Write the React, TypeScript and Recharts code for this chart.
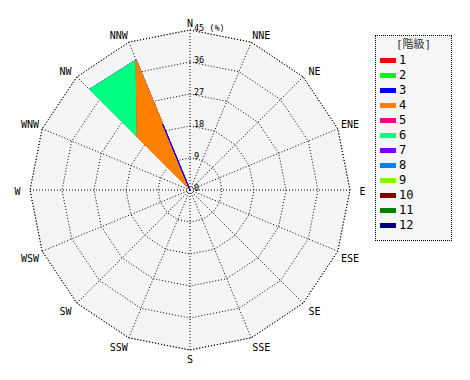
import React from 'react';
import { RadarChart, Radar, PolarGrid, PolarAngleAxis, PolarRadiusAxis, Legend } from 'recharts';

const directions = ['N', 'NNE', 'NE', 'ENE', 'E', 'ESE', 'SE', 'SSE', 'S', 'SSW', 'SW', 'WSW', 'W', 'WNW', 'NW', 'NNW'];
const radiusTicks = [0, 9, 18, 27, 36, 45];
const classLabels = ['1', '2', '3', '4', '5', '6', '7', '8', '9', '10', '11', '12'];
const classColors = ['#ff0000', '#00ff00', '#0000ff', '#ff8000', '#ff0080', '#00ff80', '#8000ff', '#0080ff', '#80ff00', '#800000', '#008000', '#000080'];

// cumulative frequency (%) up to each class, by direction (N ... NNW)
const class1 = [0, 0, 0, 0, 0, 0, 0, 0, 0, 0, 0, 0, 0, 0, 0, 0];
const class2 = [0, 0, 0, 0, 0, 0, 0, 0, 0, 0, 0, 0, 0, 0, 0, 0];
const class3 = [0, 0, 0, 0, 0, 0, 0, 0, 0, 0, 0, 0, 0, 0, 0, 20];
const class4 = [0, 0, 0, 0, 0, 0, 0, 0, 0, 0, 0, 0, 0, 0, 21, 39.6];
const class5 = [0, 0, 0, 0, 0, 0, 0, 0, 0, 0, 0, 0, 0, 0, 21, 39.6];
const class6 = [0, 0, 0, 0, 0, 0, 0, 0, 0, 0, 0, 0, 0, 0, 40, 39.6];
const class7 = [0, 0, 0, 0, 0, 0, 0, 0, 0, 0, 0, 0, 0, 0, 40, 39.6];
const class8 = [0, 0, 0, 0, 0, 0, 0, 0, 0, 0, 0, 0, 0, 0, 40, 39.6];
const class9 = [0, 0, 0, 0, 0, 0, 0, 0, 0, 0, 0, 0, 0, 0, 40, 39.6];
const class10 = [0, 0, 0, 0, 0, 0, 0, 0, 0, 0, 0, 0, 0, 0, 40, 39.6];
const class11 = [0, 0, 0, 0, 0, 0, 0, 0, 0, 0, 0, 0, 0, 0, 40, 39.6];
const class12 = [0, 0, 0, 0, 0, 0, 0, 0, 0, 0, 0, 0, 0, 0, 40, 39.6];

const classSeries = [class1, class2, class3, class4, class5, class6, class7, class8, class9, class10, class11, class12];

const data = directions.map((d, i) => {
  const row: any = { dir: d };
  classSeries.forEach((s, k) => {
    row['c' + (k + 1)] = s[i];
  });
  return row;
});

const CX = 182;
const CY = 182;
const R = 160;
const MONO = '"DejaVu Sans Mono", monospace';

const AngleTick = (props: any) => {
  const { x, y, payload } = props;
  const dx = x - CX;
  const dy = y - CY;
  const len = Math.sqrt(dx * dx + dy * dy) || 1;
  const ux = dx / len;
  const uy = dy / len;
  const ax = CX + ux * 164;
  const ay = CY + uy * 164;
  const label = String(payload.value);
  const eps = 0.05;
  const sx = ux > eps ? 1 : ux < -eps ? -1 : 0;
  const sy = uy > eps ? 1 : uy < -eps ? -1 : 0;
  const tx = ax + sx * 8.5;
  const ty = ay + 1.5 + sy * 4;
  return (
    <text x={tx} y={ty} textAnchor="middle" dominantBaseline="central" fontFamily={MONO} fontSize={10} fill="#000">
      {label}
    </text>
  );
};

const RadiusTick = (props: any) => {
  const { x, y, payload } = props;
  const v = payload.value;
  return (
    <text x={x + 4} y={y - 2.5} textAnchor="start" dominantBaseline="central" fontFamily={MONO} fontSize={8.5} fill="#000">
      {v === 45 ? '45 (%)' : String(v)}
    </text>
  );
};

const LegendBox = () => (
  <div
    style={{
      width: 77,
      height: 206,
      boxSizing: 'border-box',
      border: '1px dotted #000',
      background: '#f6f6f6',
      fontFamily: MONO + ', "Noto Sans CJK JP"',
      fontSize: 12,
      color: '#000',
      position: 'relative',
    }}
  >
    <div style={{ position: 'absolute', left: 0, right: 0, top: 2, textAlign: 'center', fontSize: 11, color: '#333', lineHeight: '14px', fontFamily: '"DejaVu Sans Mono", "Noto Sans CJK JP"' }}>
      [階級]
    </div>
    {classLabels.map((lab, i) => (
      <div key={lab} style={{ position: 'absolute', left: 4, top: 17 + i * 15, height: 15, display: 'flex', alignItems: 'center' }}>
        <div style={{ width: 16, height: 5, background: classColors[i] }} />
        <span style={{ marginLeft: 3, lineHeight: '15px' }}>{lab}</span>
      </div>
    ))}
  </div>
);

export default function App() {
  const order = [...classLabels.keys()].reverse();
  return (
    <RadarChart width={454} height={364} data={data} cx={CX} cy={CY} outerRadius={R} margin={{ top: 0, right: 0, bottom: 0, left: 0 }}>
      <PolarGrid gridType="polygon" stroke="#000" strokeDasharray="1 2" fill="#f5f5f5" />
      <PolarAngleAxis dataKey="dir" tickLine={false} axisLine={false} tick={<AngleTick />} />
      <PolarRadiusAxis angle={90} domain={[0, 45]} ticks={radiusTicks} axisLine={false} tickLine={false} tick={<RadiusTick />} />
      {order.map((k) => (
        <Radar
          key={k}
          dataKey={'c' + (k + 1)}
          name={classLabels[k]}
          stroke={classColors[k]}
          strokeWidth={1}
          fill={classColors[k]}
          fillOpacity={1}
          isAnimationActive={false}
        />
      ))}
      <Legend
        content={<LegendBox />}
        wrapperStyle={{ position: 'absolute', left: 367, top: 27, width: 77, height: 206 }}
      />
    </RadarChart>
  );
}
